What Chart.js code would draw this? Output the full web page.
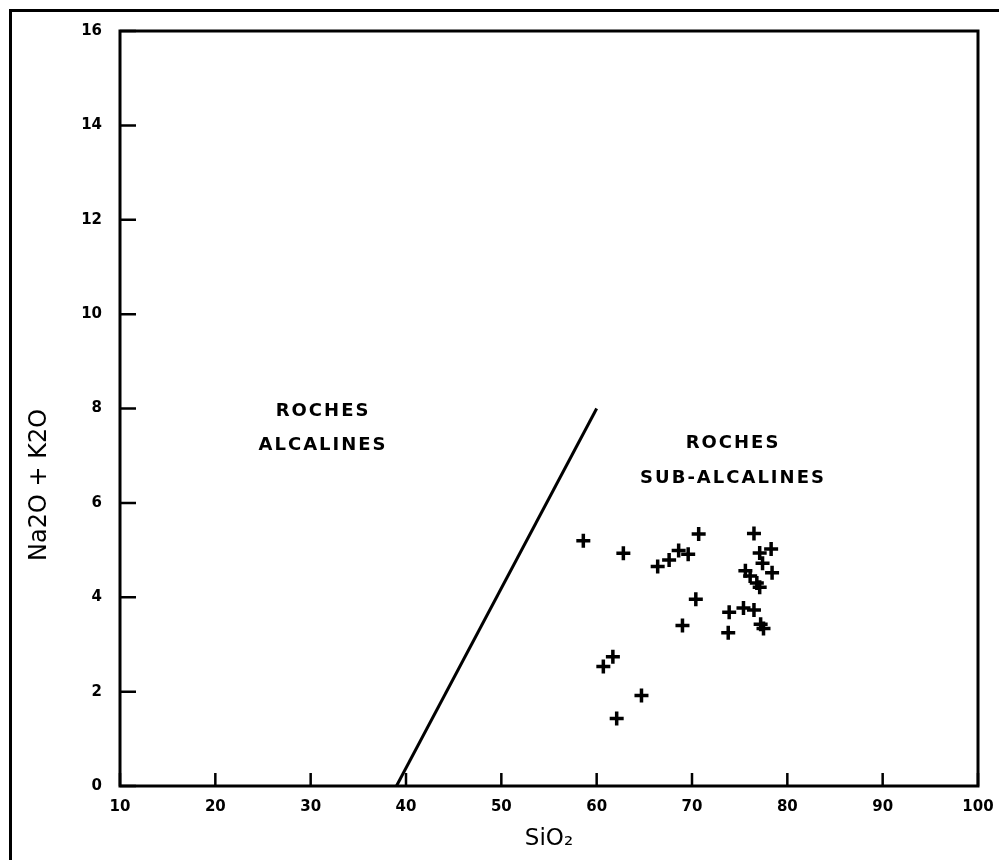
<!DOCTYPE html>
<html lang="fr">
<head>
<meta charset="utf-8">
<title>Na2O + K2O / SiO2</title>
<script src="https://cdn.jsdelivr.net/npm/chart.js@4.4.1/dist/chart.umd.min.js"></script>
<style>
  html, body { margin: 0; padding: 0; background: #fff; }
  #graph { position: relative; width: 999px; height: 860px; }
  #frame {
    position: absolute; left: 9px; top: 9px; right: -10px; bottom: -10px;
    border-left: 3px solid #000; border-top: 3px solid #000;
    pointer-events: none;
  }
</style>
</head>
<body>
<div id="graph">
  <canvas width="999" height="860"></canvas>
  <div id="frame"></div>
</div>
<script>
// Analyses (SiO2 %, Na2O + K2O %)
const siO2 = [58.6, 62.8, 66.4, 67.6, 68.6, 69.6, 70.7, 76.5, 77.1, 78.3,
  77.4, 78.4, 75.6, 76.1, 76.8, 77.1, 70.4, 73.9, 75.4, 76.5,
  69.0, 73.8, 77.2, 77.5, 61.7, 60.7, 64.7, 62.1];
const alkalis = [5.20, 4.93, 4.65, 4.79, 4.99, 4.91, 5.34, 5.35, 4.94, 5.02,
  4.72, 4.52, 4.56, 4.45, 4.30, 4.21, 3.96, 3.68, 3.77, 3.73,
  3.40, 3.25, 3.43, 3.34, 2.74, 2.53, 1.92, 1.43];

// Limite alcalin / sub-alcalin
const boundarySiO2 = [39, 60];
const boundaryAlkalis = [0, 8];

// Graduations
const xTicks = [10, 20, 30, 40, 50, 60, 70, 80, 90, 100];
const yTicks = [0, 2, 4, 6, 8, 10, 12, 14, 16];

// Libellés des domaines
const fieldLabels = [
  { lines: ["ROCHES", "ALCALINES"], x: 31.3, y: [7.93, 7.23] },
  { lines: ["ROCHES", "SUB-ALCALINES"], x: 74.3, y: [7.27, 6.53] },
];

const FONT = "'DejaVu Sans', sans-serif";
const Y_TITLE = "Na2O + K2O";

// Cadre + graduations vers l'intérieur + libellés
const diagramPlugin = {
  id: "diagram",
  afterDatasetsDraw(chart) {
    const { ctx, chartArea: a, scales } = chart;
    ctx.save();
    ctx.strokeStyle = "#000";
    ctx.lineWidth = 3;
    ctx.strokeRect(a.left, a.top, a.right - a.left, a.bottom - a.top);

    ctx.lineWidth = 2.5;
    ctx.beginPath();
    scales.x.ticks.forEach((t, i) => {
      const px = scales.x.getPixelForTick(i);
      ctx.moveTo(px, a.bottom);
      ctx.lineTo(px, a.bottom - 13);
    });
    scales.y.ticks.forEach((t, i) => {
      const py = scales.y.getPixelForTick(i);
      ctx.moveTo(a.left, py);
      ctx.lineTo(a.left + 16, py);
    });
    ctx.stroke();

    ctx.fillStyle = "#000";
    ctx.font = "bold 18px " + FONT;
    ctx.letterSpacing = "2px";
    ctx.textAlign = "center";
    ctx.textBaseline = "middle";
    fieldLabels.forEach((f) => {
      f.lines.forEach((txt, i) => {
        ctx.fillText(txt, scales.x.getPixelForValue(f.x), scales.y.getPixelForValue(f.y[i]));
      });
    });

    // titre de l'axe vertical, décalé vers le bas comme sur l'original
    ctx.letterSpacing = "0px";
    ctx.font = "24px " + FONT;
    ctx.translate(40, scales.y.getPixelForValue(6.38));
    ctx.rotate(-Math.PI / 2);
    ctx.fillText(Y_TITLE, 0, 0);
    ctx.restore();
  },
};

const points = siO2.map((x, i) => ({ x, y: alkalis[i] }));
const boundary = boundarySiO2.map((x, i) => ({ x, y: boundaryAlkalis[i] }));

new Chart(document.querySelector("#graph canvas"), {
  type: "scatter",
  data: {
    datasets: [
      {
        data: points,
        pointStyle: "cross",
        pointRadius: 7,
        pointBorderWidth: 3.5,
        borderColor: "#000",
        backgroundColor: "#000",
      },
      {
        type: "line",
        data: boundary,
        borderColor: "#000",
        borderWidth: 3,
        pointRadius: 0,
        fill: false,
      },
    ],
  },
  options: {
    responsive: false,
    animation: false,
    layout: { padding: { top: 31, right: 21, left: 0, bottom: 0 } },
    plugins: { legend: { display: false }, tooltip: { enabled: false } },
    scales: {
      x: {
        type: "linear",
        min: 10,
        max: 100,
        afterBuildTicks: (s) => { s.ticks = xTicks.map((v) => ({ value: v })); },
        afterFit: (s) => { s.height = 74; s.paddingLeft = 0; s.paddingRight = 0; },
        grid: { display: false, drawTicks: false },
        border: { display: false },
        ticks: { color: "#000", padding: 12, font: { family: FONT, size: 15, weight: "bold" } },
        title: {
          display: true,
          text: "SiO₂",
          color: "#000",
          padding: { top: 0, bottom: 7 },
          font: { family: FONT, size: 23 },
        },
      },
      y: {
        type: "linear",
        min: 0,
        max: 16,
        afterBuildTicks: (s) => { s.ticks = yTicks.map((v) => ({ value: v })); },
        afterFit: (s) => { s.width = 120; s.paddingTop = 0; s.paddingBottom = 0; },
        grid: { display: false, drawTicks: false },
        border: { display: false },
        ticks: { color: "#000", padding: 18, font: { family: FONT, size: 15, weight: "bold" } },
        title: { display: false },
      },
    },
  },
  plugins: [diagramPlugin],
});
</script>
</body>
</html>
